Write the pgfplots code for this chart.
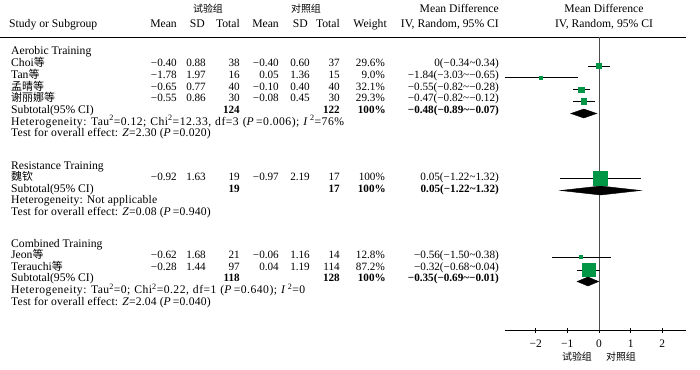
\documentclass[border=0pt]{standalone}
\usepackage{pgfplots}
\pgfplotsset{compat=1.18}
\usepackage{fontspec}
\setmainfont{Liberation Serif}
\newfontfamily\cjk{Noto Sans CJK SC}
\definecolor{fgreen}{RGB}{0,150,70}
\newcommand{\tl}{\textasciitilde}
\newcommand{\nf}{\fontsize{11.2}{13}\selectfont}
\newcommand{\R}[3]{\node[anchor=mid east] at (#1bp,-#2bp) {#3};}
\newcommand{\Lt}[3]{\node[anchor=mid west] at (#1bp,-#2bp) {#3};}
\newcommand{\C}[3]{\node[anchor=mid] at (#1bp,-#2bp) {#3};}
% study row: y, name, m1, sd1, n1, m2, sd2, n2
\newcommand{\StudyA}[8]{\Lt{11}{#1}{#2}\R{177}{#1}{\nf #3}\R{206}{#1}{\nf #4}\R{240}{#1}{\nf #5}\R{279}{#1}{\nf #6}\R{310}{#1}{\nf #7}\R{340}{#1}{\nf #8}}
\newcommand{\StudyB}[3]{\R{385}{#1}{\nf #2}\R{499}{#1}{\nf #3}}
\newcommand{\Sub}[5]{\Lt{11}{#1}{Subtotal(95\% CI)}\R{240}{#1}{\nf\bfseries #2}\R{340}{#1}{\nf\bfseries #3}\R{386}{#1}{\nf\bfseries #4}\R{499}{#1}{\nf\bfseries #5}}
\newcommand{\sk}{\hspace{4bp}}
\newcommand{\het}{\addfontfeatures{LetterSpace=4}}
\newcommand{\tst}{\addfontfeatures{LetterSpace=1.5}}
\begin{document}
\begin{tikzpicture}[every node/.style={inner sep=0pt, font=\fontsize{11.7}{13}\selectfont}]
\path[use as bounding box] (0,0) rectangle (700bp,-370bp);
% header
\C{208}{10}{\cjk\fontsize{10}{12}\selectfont 试验组}
\C{306}{10}{\cjk\fontsize{10}{12}\selectfont 对照组}
\R{499}{10}{Mean Difference}
\C{604}{10}{Mean Difference}
\Lt{9}{25.5}{Study or Subgroup}
\R{177}{25.5}{Mean}\R{205}{25.5}{SD}\R{240}{25.5}{Total}
\R{279}{25.5}{Mean}\R{308}{25.5}{SD}\R{340}{25.5}{Total}
\R{387}{25.5}{Weight}\R{499}{25.5}{IV, Random, 95\% CI}
\C{604}{25.5}{IV, Random, 95\% CI}
\draw[line width=0.8pt] (0,-37.5bp) -- (686bp,-37.5bp);
% Aerobic
\Lt{11}{52}{Aerobic Training}
\StudyA{64.5}{Choi{\cjk\fontsize{11}{13}\selectfont 等}}{−0.40}{0.88}{38}{−0.40}{0.60}{37}\StudyB{64.5}{29.6\%}{0(−0.34\tl0.34)}
\StudyA{76}{Tan{\cjk\fontsize{11}{13}\selectfont 等}}{−1.78}{1.97}{16}{0.05}{1.36}{15}\StudyB{76}{9.0\%}{−1.84(−3.03\tl−0.65)}
\StudyA{88}{{\cjk\fontsize{11}{13}\selectfont 孟晴等}}{−0.65}{0.77}{40}{−0.10}{0.40}{40}\StudyB{88}{32.1\%}{−0.55(−0.82\tl−0.28)}
\StudyA{99.5}{{\cjk\fontsize{11}{13}\selectfont 谢丽娜等}}{−0.55}{0.86}{30}{−0.08}{0.45}{30}\StudyB{99.5}{29.3\%}{−0.47(−0.82\tl−0.12)}
\Sub{111}{124}{122}{100\%}{−0.48(−0.89\tl−0.07)}
\Lt{11}{123}{\het Heterogeneity: Tau\textsuperscript{2}=0.12;\sk Chi\textsuperscript{2}=12.33,\sk df=3\sk (\textit{P}\,=0.006);\sk \textit{I}\,\textsuperscript{2}=76\%}
\Lt{11}{134.5}{\tst Test for overall effect: \textit{Z}=2.30 (\textit{P}\,=0.020)}
% Resistance
\Lt{11}{167}{Resistance Training}
\StudyA{178.5}{{\cjk\fontsize{11}{13}\selectfont 魏钦}}{−0.92}{1.63}{19}{−0.97}{2.19}{17}\StudyB{178.5}{100\%}{0.05(−1.22\tl1.32)}
\Sub{190}{19}{17}{100\%}{0.05(−1.22\tl1.32)}
\Lt{11}{201.5}{\tst Heterogeneity: Not applicable}
\Lt{11}{213}{\tst Test for overall effect: \textit{Z}=0.08 (\textit{P}\,=0.940)}
% Combined
\Lt{11}{245}{Combined Training}
\StudyA{256.5}{Jeon{\cjk\fontsize{11}{13}\selectfont 等}}{−0.62}{1.68}{21}{−0.06}{1.16}{14}\StudyB{256.5}{12.8\%}{−0.56(−1.50\tl0.38)}
\StudyA{268}{Terauchi{\cjk\fontsize{11}{13}\selectfont 等}}{−0.28}{1.44}{97}{0.04}{1.19}{114}\StudyB{268}{87.2\%}{−0.32(−0.68\tl0.04)}
\Sub{279.5}{118}{128}{100\%}{−0.35(−0.69\tl−0.01)}
\Lt{11}{291.5}{\het Heterogeneity: Tau\textsuperscript{2}=0;\sk Chi\textsuperscript{2}=0.22,\sk df=1\sk (\textit{P}\,=0.640);\sk \textit{I}\,\textsuperscript{2}=0}
\Lt{11}{303}{\tst Test for overall effect: \textit{Z}=2.04 (\textit{P}\,=0.040)}
% x label
\C{577}{358}{\cjk\fontsize{10}{12}\selectfont 试验组}
\C{621}{358}{\cjk\fontsize{10}{12}\selectfont 对照组}
\begin{axis}[at={(505bp,-330bp)}, anchor=south west, scale only axis,
  width=181bp, height=293bp, xmin=-2.97, xmax=2.75, ymin=-330, ymax=-37,
  axis x line*=bottom, axis y line=none, axis line style={line width=0.8pt},
  xtick={-2,-1,0,1,2}, xticklabels={−2,−1,0,1,2}, tick align=center,
  major tick length=5bp, tick style={line width=0.8pt, black},
  xticklabel style={font=\fontsize{11.5}{13}\selectfont, yshift=-7bp},
  clip=true]
\addplot[draw=black!70, line width=0.9pt, mark=none] coordinates {(0,-37) (0,-330)};
% squares with CIs
\pgfplotsset{sq/.style={only marks, mark=square*, mark options={fill=fgreen, draw=fgreen, line width=0pt}, color=fgreen,
  error bars/.cd, x dir=both, x explicit, error mark=none, error bar style={black, line width=0.7pt}}}
\addplot[mark size=2.7bp, sq] coordinates {(0,-66) +- (0.34,0)};
\addplot[mark size=1.3bp, sq] coordinates {(-1.84,-77.8) +- (1.19,0)};
\addplot[mark size=2.8bp, sq] coordinates {(-0.55,-89.8) +- (0.27,0)};
\addplot[mark size=2.7bp, sq] coordinates {(-0.47,-101.3) +- (0.35,0)};
\addplot[mark size=6.8bp, sq] coordinates {(0.05,-178.5) +- (1.27,0)};
\addplot[mark size=1.4bp, sq] coordinates {(-0.56,-257.3) +- (0.94,0)};
\addplot[mark size=6.4bp, sq] coordinates {(-0.32,-270) +- (0.36,0)};
% diamonds
\addplot[fill=black, draw=black, mark=none] coordinates {(-0.89,-113.5) (-0.48,-109) (-0.07,-113.5) (-0.48,-118)} --cycle;
\addplot[fill=black, draw=black, mark=none] coordinates {(-1.22,-190.5) (0.05,-186) (1.32,-190.5) (0.05,-195)} --cycle;
\addplot[fill=black, draw=black, mark=none] coordinates {(-0.69,-281.5) (-0.35,-277) (-0.01,-281.5) (-0.35,-286)} --cycle;
\end{axis}
\end{tikzpicture}
\end{document}
